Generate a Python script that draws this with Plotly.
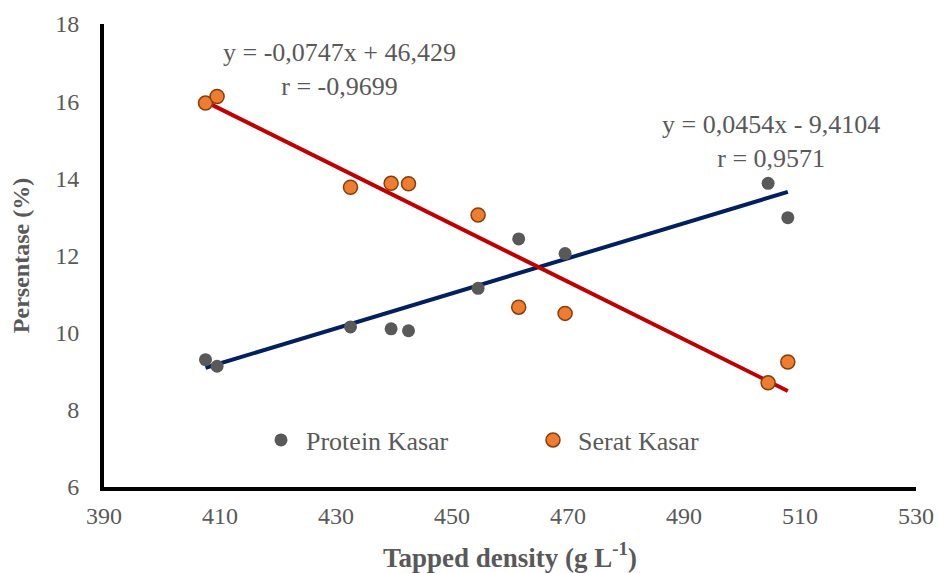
import plotly.graph_objects as go

# Data
density = [407.5, 409.5, 432.5, 439.5, 442.5, 454.5, 461.5, 469.5, 504.5, 507.9]
protein = [9.3, 9.13, 10.15, 10.1, 10.05, 11.15, 12.43, 12.05, 13.87, 12.98]
serat = [15.95, 16.12, 13.77, 13.87, 13.86, 13.05, 10.66, 10.5, 8.7, 9.24]

protein_slope, protein_icpt = 0.0454, -9.4104
serat_slope, serat_icpt = -0.0747, 46.429

x_ticks = [390, 410, 430, 450, 470, 490, 510, 530]
y_ticks = [6, 8, 10, 12, 14, 16, 18]

grey = "#595959"
font_family = "Liberation Serif"

x_fit = [min(density), max(density)]
protein_fit = [protein_slope * v + protein_icpt for v in x_fit]
serat_fit = [serat_slope * v + serat_icpt for v in x_fit]

L, R, T, B = 104, 23, 24, 86
W, H = 939, 573
pw, ph = W - L - R, H - T - B


def px_to_paper(px, py):
    return (px - L) / pw, 1 - (py - T) / ph


fig = go.Figure()
fig.add_trace(go.Scatter(x=x_fit, y=protein_fit, mode="lines",
                         line=dict(color="#002060", width=4), showlegend=False, hoverinfo="skip"))
fig.add_trace(go.Scatter(x=x_fit, y=serat_fit, mode="lines",
                         line=dict(color="#C00000", width=4), showlegend=False, hoverinfo="skip"))
fig.add_trace(go.Scatter(x=density, y=protein, mode="markers", name="Protein Kasar",
                         marker=dict(color=grey, size=13, line=dict(width=0))))
fig.add_trace(go.Scatter(x=density, y=serat, mode="markers", name="Serat Kasar",
                         marker=dict(color="#ED7D31", size=14, line=dict(color="#8A3B0A", width=1.5))))

ann_font = dict(family=font_family, size=26, color=grey)
ax, ay = px_to_paper(339, 69)
fig.add_annotation(x=ax, y=ay, xref="paper", yref="paper", xanchor="center", yanchor="middle",
                   text="y = -0,0747x + 46,429<br>r = -0,9699", showarrow=False, font=ann_font,
                   align="center")
ax, ay = px_to_paper(771, 141)
fig.add_annotation(x=ax, y=ay, xref="paper", yref="paper", xanchor="center", yanchor="middle",
                   text="y = 0,0454x - 9,4104<br>r = 0,9571", showarrow=False, font=ann_font,
                   align="center")

lx, ly = px_to_paper(256, 440)
fig.update_layout(
    width=W, height=H,
    margin=dict(l=L, r=R, t=T, b=B),
    paper_bgcolor="white", plot_bgcolor="white",
    font=dict(family=font_family, color=grey, size=24),
    legend=dict(orientation="h", x=lx, y=ly, yanchor="middle", itemwidth=40,
                xanchor="left", entrywidth=217, font=dict(size=26, color=grey, family=font_family),
                bgcolor="rgba(0,0,0,0)"),
    xaxis=dict(range=[390, 530], tickvals=x_ticks, showgrid=False, zeroline=False,
               showline=True, linecolor="black", linewidth=4, ticks="", automargin=False,
               ticklabelstandoff=4,
               tickfont=dict(size=24, color=grey, family=font_family),
               title=dict(text="<b>Tapped density (g L<sup>-1</sup>)</b>", standoff=21,
                          font=dict(size=27, color=grey, family=font_family))),
    yaxis=dict(range=[6, 18], tickvals=y_ticks, showgrid=False, zeroline=False,
               showline=True, linecolor="black", linewidth=4, ticks="", automargin=True,
               ticklabelstandoff=16,
               tickfont=dict(size=24, color=grey, family=font_family),
               title=dict(text="<b>Persentase (%)</b>", standoff=20,
                          font=dict(size=24, color=grey, family=font_family))),
)

fig.write_html("out.html", config={"displayModeBar": False},
               post_script="document.body.style.margin='0';")
